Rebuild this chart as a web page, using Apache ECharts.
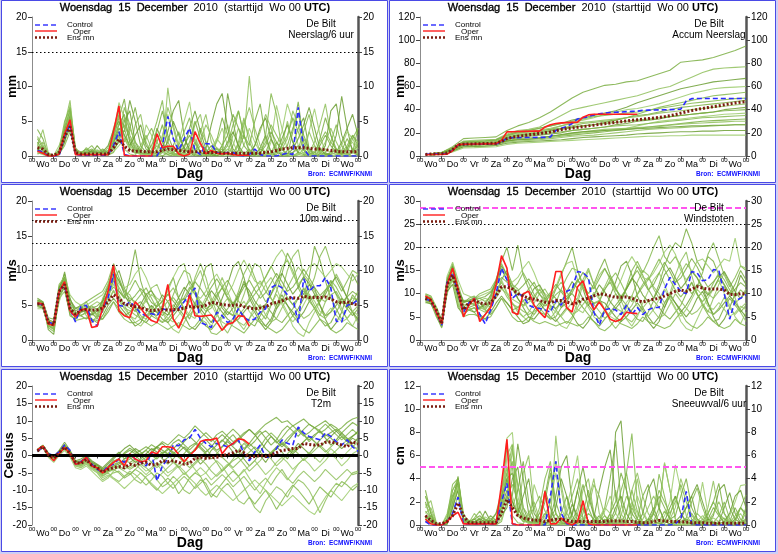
<!DOCTYPE html>
<html>
<head>
<meta charset="utf-8">
<script src="https://cdn.jsdelivr.net/npm/echarts@6/dist/echarts.min.js"></script>
<style>
html, body { margin: 0; padding: 0; background: #cfcff4; }
#chart { width: 778px; height: 554px; }
</style>
</head>
<body>
<div id="chart"></div>
<script>
// forecast steps (hours after Wo 00 UTC)
const hours = [6,12,18,24,30,36,42,48,54,60, 66,72,78,84,90,96,102,108,114,120,
  126,132,138,144,150,156,162,168,174,180, 186,192,198,204,210,216,222,228,234,240,
  246,252,258,264,270,276,282,288,294,300, 306,312,318,324,330,336,342,348,354,360]
const hours12 = [12,24,36,48,60,72,84,96,108,120, 132,144,156,168,180,192,204,216,228,240,
  252,264,276,288,300,312,324,336,348,360]
const dayNames = ['Wo','Do','Vr','Za','Zo','Ma','Di','Wo','Do','Vr','Za','Zo','Ma','Di','Wo']

// ---- Neerslag/6 uur (mm)
const precipControl = [0.8,0.6,0,0,0.1,2.8,4.5,0.2,0.1,0.1, 0.1,0.1,0.1,0.2,1.5,3.5,0.2,0,0,0,
  0,0,0,1.5,5.7,2.5,0.8,2.5,4.0,0.8, 0.2,1.8,1.7,0.5,0.3,0.5,0.5,0.1,0,0.2,
  1.0,0.2,0,0,0,0.2,0.4,0.2,7.0,1.0, 0,0,0,0,0,0,0,0,0,0]
const precipOper = [0.7,0.4,0,0,0.3,3.2,5.2,0.2,0.2,0.2, 0.2,0.2,0.2,0.2,3.5,7.2,0.1,0,0,0,
  0,0,3.2,1.2,1.4,1.4,0.3,0,0.3,3.5, 1.8,0.3,0.8,0.4,0.3,0.4,0.2,0.1,0.1,0.1]
const precipMean = [1.2,1.0,0.2,0.1,0.5,2.8,4.2,0.5,0.3,0.3, 0.3,0.3,0.3,0.3,1.2,2.4,1.4,0.8,0.7,0.7,
  0.6,0.6,0.6,0.8,1.0,0.9,0.8,0.7,0.6,0.6, 0.6,0.5,0.5,0.5,0.4,0.4,0.4,0.4,0.4,0.4,
  0.4,0.4,0.5,0.6,0.8,1.0,1.1,1.2,1.2,1.2, 1.1,1.0,1.0,0.9,0.8,0.7,0.6,0.6,0.6,0.6]
const precipMembers = [
  [3.8,2.5,0.2,0,0.5,3.5,6.8,0.8,0.4,0.6, 1.0,0.5,0.3,0.2,2.5,5.5,8.2,3.0,1.2,0.5, 0,0.3,2.0,4.5,1.0,0.2,0,1.5,3.0,0.8,
   0.2,0,0.5,2.2,5.5,3.0,0.5,0,0.3,1.0, 0,0,0.5,2.5,1.0,0,0,3.5,7.8,2.0, 0.5,0,1.0,0.2,0,0,0.8,2.5,1.0,0.3],
  [1.5,3.8,0.5,0,0.2,4.5,8.0,0.5,0.2,1.2, 0.5,0.2,0.8,0.3,4.0,6.5,2.5,1.0,4.5,6.0, 2.0,0.3,0,0.5,9.8,4.0,1.0,0.3,0,0.2,
   3.5,6.0,2.0,0.5,0,0,1.5,4.0,2.5,11.5, 3.0,0.5,0,0,0.2,1.5,5.0,2.0,0.3,0, 0.5,2.0,4.5,7.5,3.0,0.5,0,0.2,1.0,0.5],
  [2.0,0.8,0,0,0.8,2.5,5.5,0.3,0.5,0.2, 0.3,1.5,0.5,0.2,1.8,4.0,3.5,8.0,5.0,1.5, 0.5,0,0,1.0,3.5,6.5,8.0,3.0,0.5,0,
   0,0.5,1.5,0.5,0.2,9.0,5.0,1.0,0.2,0, 0,1.2,3.0,0.5,0,0,0.8,1.5,4.0,5.5, 1.0,0.2,0,0,0.5,3.0,8.6,4.0,0.5,1.5],
  [0.5,0.2,0,0.1,1.5,4.0,7.5,1.0,0.3,0.2, 0.5,0.3,0.2,0.5,3.0,7.7,5.5,2.0,0.5,0.2, 4.5,3.0,0.5,0,0,0.2,2.0,5.0,7.8,2.5,
   0.5,0,0,0,1.5,4.5,2.0,0.3,5.0,3.0, 0.5,0.2,0,2.0,7.3,4.0,1.0,0.2,0,0, 3.5,6.8,3.0,0.5,0,0,0.3,1.2,2.0,0.5],
  [1.0,0.5,0.1,0,0.3,1.5,3.5,0.5,0.3,0.8, 1.5,0.5,0.2,0.1,0.5,2.5,7.0,4.5,1.5,0.5, 0.2,2.5,5.0,8.0,2.0,0.5,0,0,0.3,1.5,
   4.0,2.0,0.5,0,0,0.5,3.0,6.5,3.0,0.5, 0,0,3.0,9.0,6.0,1.0,0,0,0.5,2.5, 1.0,0,0,0.5,2.0,4.5,1.5,0.3,0,0],
  [2.5,1.2,0,0,0.5,3.0,4.5,0.3,0.2,0.3, 0.2,0.4,1.0,0.5,2.0,3.5,2.0,4.0,7.0,3.0, 1.0,0.2,0,0,0.5,1.5,3.5,1.0,0.3,2.0,
   0.5,0,0.2,1.0,0.5,0.2,0,0.8,3.0,1.5, 5.0,7.5,2.5,0.5,0,0,0,0.5,1.5,0.8, 0.2,0,2.5,5.5,3.0,1.0,0.2,0,0.5,4.0],
  [1.2,2.0,0.3,0,0.2,2.0,6.0,0.4,0.2,0.1, 0.1,0.2,0.3,1.2,3.5,6.0,1.0,0.3,0.1,1.5, 3.0,1.0,0.2,0.5,1.5,0.3,0,0.2,1.5,4.5,
   6.0,2.0,0.3,0,0.3,1.0,0.5,0,0,0.5, 1.5,3.5,6.0,4.0,1.0,0.3,0,0,0.2,1.0, 3.5,1.5,0.3,0,0.3,1.0,0.5,0.2,0,0.3],
  [0.3,0.5,0.1,0,0.6,3.8,5.8,0.6,0.4,0.3, 0.8,0.6,0.4,0.3,1.0,2.0,5.0,6.5,2.0,0.5, 0.2,0.5,4.0,2.0,0.5,0.2,0.3,2.5,1.0,0.2,
   0,1.0,4.5,7.5,9.0,4.0,1.0,0.2,0,0, 0.3,1.0,0.5,0.2,0.5,2.5,4.5,2.0,0.5,0.2, 0,0,0.3,1.5,6.5,7.5,3.0,1.0,0.5,0.2],
  [1.8,0.8,0.1,0,0.4,2.2,4.0,0.2,0.2,0.4, 0.6,0.9,0.5,0.2,2.2,4.8,3.0,1.5,0.8,0.3, 0.2,0.1,0.5,3.0,6.0,2.5,0.5,0.2,0.5,1.0,
   0.3,0.2,0.5,2.0,4.0,1.5,0.5,0.2,1.5,4.0, 2.0,0.5,0.2,0.3,1.5,3.5,7.5,5.0,1.5,0.3, 0.5,1.5,0.5,0.2,0,0.2,1.5,3.5,2.5,1.0],
  [0.6,1.0,0.2,0,1.0,5.0,7.0,1.2,0.3,0.2, 0.3,0.3,0.2,0.2,1.2,3.0,4.5,2.5,1.0,0.4, 0.3,0.5,1.5,0.8,0.2,0,0.5,1.2,0.3,0.5,
   1.5,0.8,0.3,0.5,1.0,0.3,0.2,2.0,5.5,2.0, 0.3,0,0,0.5,2.0,1.0,0.3,0.5,1.0,3.5, 6.0,2.5,0.5,0.2,0.5,1.0,0.3,0.5,2.5,4.0],
  [0.8,1.5,0.3,0,0.6,2.5,5.0,0.6,0.5,1.0, 0.4,0.3,0.5,0.8,2.0,4.5,6.0,2.0,0.8,0.3, 0.5,1.5,3.5,6.5,3.0,1.0,0.3,0.5,2.0,5.0,
   2.5,0.5,0,0.3,1.5,3.0,6.0,4.0,1.5,0.5, 0.2,0.5,1.5,3.5,2.0,0.8,1.5,4.0,6.0,3.0, 1.0,0.5,1.5,3.0,1.5,0.5,0.3,1.0,3.0,1.5],
  [2.8,1.5,0.1,0,0.3,3.2,6.2,0.4,0.6,0.5, 0.3,0.8,0.4,0.2,1.5,3.0,5.5,4.0,2.0,1.0, 0.3,0.1,1.0,2.5,7.0,4.5,1.5,0.5,0.2,0.8,
   2.0,4.5,3.0,1.0,0.3,0.1,0.5,1.5,4.5,7.0, 4.0,1.5,0.5,0.2,0.5,1.0,2.5,6.5,4.5,1.5, 0.5,0.2,0.5,2.0,4.0,2.0,0.5,0.2,0.5,2.0],
  [1.0,0.5,0,0,0.2,2.0,4.8,0.3,0.2,0.5, 0.7,0.4,0.6,1.5,3.8,5.0,3.0,1.5,3.0,4.5, 1.5,0.5,0.2,0.8,2.0,5.0,3.0,1.0,4.0,6.5,
   3.5,1.0,0.2,0,0.5,2.0,3.5,1.5,0.3,0.2, 1.5,4.0,5.5,2.5,0.5,0.2,0.3,1.0,2.5,4.5, 7.0,4.0,1.0,0.3,0.2,0.5,2.0,4.0,6.0,3.0],
  [0.4,0.3,0.1,0,0.4,2.6,3.8,0.3,0.2,0.2, 0.3,0.4,0.3,0.2,0.6,1.5,2.5,1.5,0.5,0.3, 0.2,0.2,0.5,1.0,0.5,0.2,0.1,0.2,0.5,0.3,
   0.2,0.3,1.0,2.5,1.5,0.5,0.2,0.1,0.3,0.8, 0.5,0.2,0.1,0.3,0.8,0.5,0.2,0.1,0.3,0.5, 0.3,0.2,0.5,1.0,0.5,0.2,0.1,0.2,0.5,0.3],
  [1.5,0.9,0.2,0,0.7,4.2,6.5,0.9,0.6,0.4, 0.2,0.2,0.3,0.6,2.8,6.0,4.0,1.0,0.4,1.0, 2.5,4.0,2.0,0.5,0.2,0.5,1.5,3.5,5.5,2.0,
   0.5,0.2,0.5,1.2,0.5,1.5,4.5,6.5,3.0,0.8, 0.3,0.5,2.0,4.5,3.0,1.5,3.0,5.5,3.5,1.0, 0.3,0.5,2.0,3.5,2.0,1.0,0.5,1.5,3.0,2.0]
]
const precipLevels = [15]

// ---- Accum Neerslag (mm)
const accumControl = [1.5,1.8,1.8,1.9,2.0,5.0,9.5,10.0,10.1,10.2, 10.2,10.3,10.3,10.4,12.0,15.5,15.7,15.8,16.0,16.0,
  16.0,16.1,16.1,16.5,22.0,24.0,25.5,28.0,32.0,33.0, 34.0,35.5,36.5,37.0,37.5,37.8,38.0,38.3,38.5,38.7,
  39.5,39.6,39.7,39.8,39.9,40.0,40.2,40.5,47.5,49.5, 49.7,49.7,49.7,49.7,49.7,49.7,49.7,49.7,49.6,49.5]
const accumOper = [1.0,1.3,1.3,1.3,1.6,4.5,9.8,10.1,10.2,10.3, 10.4,10.5,10.6,10.7,13.5,20.8,21.0,21.2,21.3,21.4,
  21.5,21.5,25.0,27.0,28.0,28.6,28.8,29.0,29.2,33.5, 35.5,36.0,36.1,36.1,36.1,36.1,36.1,36.1,36.1,36.1]
const accumMean = [1.3,1.7,1.9,2.0,2.5,5.5,9.6,10.2,10.4,10.5, 10.6,10.8,10.9,11.0,12.5,15.0,16.3,17.0,17.6,18.2,
  18.8,19.4,20.0,20.8,21.8,22.8,23.6,24.2,24.8,25.4, 26.0,26.6,27.2,27.8,28.4,29.0,29.6,30.2,30.8,31.3,
  31.8,32.3,32.8,33.3,34.0,34.8,35.8,37.0,38.2,39.2, 40.2,41.0,41.8,42.6,43.4,44.2,45.0,45.8,46.4,46.9]
const accumMembers = [
  [2,3,8,15,15.5,16,16.5,22,26,29, 33,38,44,50,55,58,61,62,64,65, 68,71,74,81,82,83,85,88,91,95],
  [2,3,7,13,13.5,14,14.5,19,22,23, 25,30,35,40,42,44,46,48,50,52, 55,58,60,64,68,72,75,76,76.5,77],
  [1.5,2.5,6,12,12.5,13,14,18,21,22, 24,26,28,31,33,35,37,39,42,46, 49,52,55,58,60,62,64,65,66,67],
  [2,2.5,6,11,11.5,12,12.5,16,19,20, 21,23,26,29,31,33,36,38,40,41, 43,45,48,51,54,56,58,59,59.5,60],
  [1.5,2,5,10,10.5,11,11.5,15,18,19, 20,22,24,26,28,29,30,31,33,36, 39,42,44,46,48,50,52,53,54,55],
  [2,3,7,12,12.5,13,13.5,17,20,21, 22,23,24,25,26,27,29,31,33,35, 36,38,40,42,43,44,45,46,47,48],
  [2,2.5,6,11,11.3,11.6,12,17,20,21, 22.5,24,26,28,29,30,31,32,33,34, 35.5,37,38,39,40,41,42,43,44,45],
  [1,2,5,9,9.5,10,10.5,14,16,17, 18,19,20,22,23,24,25,27,28,30, 31,32,34,35,36,37,38,40,41,42],
  [2,3,6,10,10.5,11,11.2,13,15,15.5, 16,17,18,19,20,21,22,23,24,26, 28,30,31,32,33,34,35,36,36.5,37],
  [1.5,2.5,5.5,10,10.3,10.6,11,14,17,18, 19,20,21,22,23,24,25,26,26.5,27, 28,29,30,31,32,33,33.5,34,34.5,35],
  [1.5,2,5,9,9.5,10,10.2,13,14,14.5, 15,16,17,18,19,20,21,22,23,24, 25,26,27,28,29,30,30.5,31,31.5,32],
  [1,1.5,4,8,8.3,8.6,9,12,13,13.5, 14,15,16,17,17.5,18,19,20,21,22, 23,23.5,24,24.5,25,25.5,26,26.5,27,27],
  [1,2,4,8,8.2,8.5,9,11,12,12.5, 13,13.5,14,15,16,16.5,17,17.5,18,19, 19.5,20,20.5,21,21,21.5,21.5,22,22,22],
  [1,1.5,3.5,7,7.2,7.5,8,10,11,11.5, 12,12.5,13,13.5,14,14.5,15,15.5,16,16.5, 17,17,17.5,17.5,18,18,18,18,18,18],
  [2,3,7,12,12.5,13,13.5,18,21,22, 24,26,28,30,32,34,35,36,37,38, 39.5,41,42.5,44,45.5,46.5,47.5,48.5,49.5,50],
  [1.5,2.5,6,11,11.3,11.6,12,16,18,19, 20,21.5,23,24.5,26,27,28,29,30,31, 32,33,34,35,36,37,38,39,39.5,40],
  [1,2,5,9,9.3,9.6,10,13,15,15.5, 16,17,18,19.5,21,22,23,23.5,24,24.5, 25,25.5,26.5,27.5,28,28.5,29,29.5,30,30],
  [1.5,2.5,5.5,10,10.2,10.4,10.6,13,14,14.5, 15.5,17,18.5,20,21,21.5,22,22.5,23,23.5, 24,24.5,25,25.5,26,26,26.5,26.5,27,27]
]

// ---- 10m wind (m/s)
const windControl = [5.3,5.0,2.6,2.3,7.2,7.8,4.5,2.6,4.8,5.0, 2.8,2.0,4.5,6.0,9.5,5.0,4.8,5.5,4.8,3.8,
  3.5,3.8,3.5,4.5,4.3,4.2,4.5,5.5,6.5,7.5, 2.5,2.2,1.8,4.0,3.5,2.5,3.0,4.5,3.2,2.8,
  3.0,4.0,4.5,7.5,8.0,7.5,6.5,6.0,2.5,8.8, 7.0,7.8,7.8,9.0,7.5,2.7,2.6,5.0,5.2,5.8]
const windOper = [5.3,5.2,2.3,2.1,7.0,8.4,4.2,3.3,4.3,4.5, 1.8,2.0,4.5,7.0,10.8,4.2,3.5,3.2,5.5,4.6,
  3.5,2.8,2.5,4.5,8.0,3.0,1.7,3.5,6.5,3.5, 3.4,3.5,3.6,2.6,1.4,2.3,2.5,3.5,3.4,2.0]
const windMean = [5.2,5.1,2.5,2.2,7.0,8.0,4.5,3.7,4.3,4.4, 4.3,4.3,4.6,5.5,6.5,6.0,5.2,5.0,4.8,4.7,
  4.4,4.2,4.3,4.4,4.3,4.4,4.4,4.6,4.8,4.7, 4.8,5.0,5.4,5.3,5.1,5.0,5.0,5.1,4.8,4.6,
  4.5,4.6,4.8,5.2,5.4,5.6,6.0,6.1,6.0,6.3, 6.1,6.1,6.1,6.2,5.9,5.5,5.3,5.5,5.2,5.0]
const windMembers = [
  [5.5,5.0,2.0,1.5,7.5,9.5,5.0,3.0,4.5,5.5, 4.0,3.0,5.5,8.0,10.5,7.0,6.0,9.0,13.0,8.5, 6.0,4.0,3.5,5.0,7.5,9.0,6.0,4.5,3.0,5.0,
   8.0,10.5,11.0,7.0,5.0,4.0,3.5,6.0,8.5,6.5, 5.0,4.0,3.0,5.0,7.0,9.5,12.5,11.0,8.0,6.5, 9.0,13.5,11.5,8.5,6.0,4.5,3.0,4.5,6.5,5.5],
  [5.0,4.8,3.0,2.5,6.0,7.0,4.0,4.5,5.0,3.5, 2.5,3.5,6.0,7.5,9.0,6.5,5.0,3.5,3.0,4.5, 6.0,7.5,8.0,6.0,4.0,3.0,2.0,3.5,6.0,9.0,
   11.0,9.0,6.0,4.0,2.0,1.0,2.5,4.5,6.5,9.0, 11.0,10.5,8.0,6.0,5.0,7.0,10.0,12.0,13.0,9.0, 6.5,5.0,3.5,5.5,7.5,9.5,8.0,6.0,4.0,2.5],
  [6.0,5.5,1.5,0.8,6.5,9.8,6.0,4.0,3.5,3.0, 3.8,4.5,4.0,6.5,8.5,10.0,7.5,5.5,4.5,3.0, 2.5,3.5,5.0,6.5,5.5,4.0,5.0,7.0,8.5,7.0,
   4.5,3.5,2.5,4.0,6.0,8.0,10.5,11.3,9.0,6.0, 4.5,3.0,2.0,3.0,5.0,6.5,5.0,3.5,4.5,6.0, 8.0,7.5,5.0,3.0,1.5,2.5,4.0,6.5,9.5,8.0],
  [4.5,4.5,2.5,2.0,5.5,8.0,4.5,3.5,4.0,4.5, 5.0,5.5,5.0,5.5,7.0,6.0,4.5,3.5,2.5,2.0, 3.0,4.5,5.5,4.0,2.5,1.5,1.0,2.5,4.0,5.5,
   4.0,3.0,2.0,3.5,5.0,6.0,4.0,2.5,1.5,3.0, 5.0,6.5,8.0,9.0,7.5,5.5,4.0,2.0,1.0,0.5, 2.5,4.0,5.5,7.0,8.5,6.5,4.5,3.0,2.0,3.5],
  [5.8,5.5,3.2,3.0,8.0,9.0,5.5,4.5,5.0,5.5, 6.0,6.5,7.0,8.5,11.0,9.0,7.0,6.0,5.5,6.5, 7.5,6.0,4.5,3.5,4.5,6.5,8.5,10.0,9.5,7.0,
   5.5,4.5,5.0,6.5,7.5,6.0,5.0,7.0,9.5,11.0, 9.0,7.0,5.5,6.5,8.0,10.5,11.5,10.0,7.5,6.0, 7.0,9.0,12.0,13.5,11.0,8.5,7.0,8.5,10.0,9.5],
  [5.2,5.0,2.8,2.2,7.0,8.5,4.0,3.5,3.5,4.0, 4.5,3.5,3.0,4.0,5.5,4.5,3.5,4.0,5.0,5.5, 4.5,3.5,3.0,2.5,3.0,4.0,5.5,6.0,5.0,4.0,
   3.0,2.0,1.5,2.5,3.5,4.5,5.5,4.5,3.5,2.5, 2.0,3.5,5.0,4.0,3.0,2.5,3.5,4.5,6.0,7.5, 6.0,4.5,3.0,2.0,2.5,4.0,5.5,4.5,3.5,4.5],
  [5.6,5.3,2.0,1.8,7.2,8.8,4.8,3.8,4.2,4.8, 4.0,3.8,5.0,7.0,9.5,8.5,7.0,6.5,5.0,3.5, 3.0,4.0,4.8,5.5,6.5,7.5,6.0,4.5,5.5,8.5,
   10.0,7.5,5.5,7.0,9.0,7.0,5.0,3.5,4.5,6.0, 7.5,8.5,7.0,6.0,4.5,5.5,7.5,9.0,10.5,9.5, 8.5,7.0,6.0,5.5,6.5,7.0,5.5,4.5,5.5,7.0],
  [4.8,4.6,2.4,1.9,6.5,7.5,3.5,3.0,4.0,4.2, 3.0,2.5,3.5,5.0,6.0,5.0,4.0,3.0,2.0,2.5, 4.0,5.0,4.0,3.0,2.5,3.5,4.5,3.5,2.0,1.5,
   2.5,4.0,5.5,5.0,4.0,3.0,2.5,3.0,4.0,5.0, 4.0,2.5,1.5,2.5,4.5,6.0,5.0,4.0,3.0,4.0, 5.5,6.5,5.0,3.5,4.0,5.0,6.0,5.0,4.0,3.0],
  [5.4,5.2,2.6,2.4,7.8,9.2,6.5,5.5,5.0,5.0, 5.5,6.0,6.5,8.0,10.0,8.0,7.5,8.0,9.5,10.5, 9.0,7.0,6.0,5.5,7.0,9.0,10.5,11.0,8.0,6.5,
   6.0,7.0,8.5,9.5,8.0,6.5,8.0,10.0,11.5,10.0, 8.5,8.0,9.0,10.5,12.0,13.0,11.5,9.5,8.0,9.0, 10.5,11.0,10.0,9.0,10.0,11.0,10.5,9.5,8.5,9.5],
  [5.0,4.7,1.8,1.2,6.2,7.8,3.8,2.8,3.0,3.2, 3.0,2.8,3.0,4.5,5.5,4.0,3.0,2.5,2.5,3.0, 2.5,2.0,2.5,2.0,1.5,2.0,2.5,2.0,1.5,2.0,
   3.0,2.5,1.0,0.8,1.5,2.5,2.0,1.5,1.0,2.0, 3.0,2.5,2.0,1.5,1.0,1.5,2.5,3.5,2.5,1.5, 1.0,2.0,3.0,2.5,1.5,1.0,1.5,2.5,2.0,1.5],
  [5.3,5.1,2.9,2.6,7.4,8.6,5.2,4.2,4.6,4.9, 4.6,4.9,5.6,6.6,7.6,7.0,6.2,5.6,6.4,7.4, 6.6,5.4,4.8,5.6,6.6,5.6,4.6,5.6,7.2,8.4,
   7.4,6.2,7.6,8.8,7.6,6.2,5.2,6.2,7.6,8.6, 7.2,6.0,6.8,8.2,9.6,8.4,7.0,7.6,8.8,10.2, 9.0,7.6,6.4,7.2,8.0,6.6,5.4,6.2,7.0,6.4],
  [4.9,4.8,2.2,1.6,6.8,8.2,4.3,3.2,3.6,3.9, 3.7,3.3,4.1,5.6,7.2,5.6,4.6,4.2,3.6,3.1, 3.6,4.1,3.2,2.6,3.6,5.1,4.1,3.1,3.6,4.6,
   5.6,4.6,3.6,2.6,3.1,4.1,3.6,2.6,2.1,3.1, 4.1,5.1,3.6,2.6,3.1,4.6,6.1,5.1,4.1,3.1, 3.6,4.6,3.6,3.1,4.1,5.6,4.1,3.1,4.1,4.9],
  [5.7,5.4,2.7,2.1,7.6,9.0,5.8,4.6,4.6,4.1, 3.6,4.2,5.6,7.6,9.8,8.6,6.6,5.1,4.1,5.1, 6.6,7.1,5.6,4.1,3.6,4.6,6.1,7.6,6.6,5.1,
   4.1,5.6,7.1,6.1,4.6,3.6,4.6,6.6,8.1,7.1, 5.6,4.6,5.1,6.6,8.6,9.6,8.1,6.6,7.6,9.1, 8.1,6.6,5.6,6.6,8.1,9.1,7.6,6.1,5.1,6.1],
  [5.1,4.9,2.5,2.0,6.9,7.9,4.1,3.4,4.4,4.6, 4.1,3.6,4.6,6.1,8.1,6.1,5.1,4.6,4.1,4.6, 5.6,6.6,5.6,4.1,3.1,2.6,3.6,4.6,3.6,3.1,
   4.6,6.1,5.1,3.6,2.6,2.1,3.1,4.6,5.6,4.1, 3.1,2.6,3.6,5.1,6.6,5.1,3.6,2.6,3.6,5.1, 6.6,5.6,4.1,3.6,4.6,3.6,2.6,3.1,4.1,3.6],
  [5.5,5.2,2.2,1.6,7.1,8.9,4.9,3.6,4.1,4.6, 4.9,4.4,5.1,6.6,8.9,7.6,6.1,7.1,8.6,7.1, 5.6,4.6,3.9,4.6,5.6,6.1,5.1,6.1,7.6,6.6,
   5.1,4.1,4.6,6.1,7.6,8.6,7.1,5.6,4.6,5.6, 6.6,7.6,9.1,10.6,9.1,7.6,6.1,5.1,6.1,7.1, 5.6,4.6,5.6,7.1,8.6,7.6,6.1,5.1,6.1,5.6]
]
const windLevels = [10.8, 13.9, 17.2]

// ---- Windstoten (m/s)
const gustControl = [8.8,8.5,6.0,3.2,12.5,14.5,10.0,6.0,8.0,9.0, 5.5,3.5,6.5,10.0,15.5,13.0,9.0,10.0,9.5,7.5,
  7.0,6.8,6.5,6.0,8.5,7.5,10.5,11.0,14.8,14.5, 13.5,6.0,3.2,6.5,6.8,6.5,5.5,7.5,5.5,7.0,
  5.5,6.5,7.0,7.0,11.0,13.5,12.0,10.5,10.0,14.8, 14.5,12.8,13.0,15.2,15.0,10.0,4.5,8.5,9.0,9.8]
const gustOper = [9.5,8.8,6.0,3.5,12.0,15.5,11.0,5.0,7.5,9.0, 4.0,5.5,7.0,12.0,18.2,15.5,6.0,5.5,10.0,10.5,
  7.5,6.0,4.8,9.0,14.8,14.8,7.0,6.0,11.5,12.8, 9.0,6.5,8.2,6.5,4.5,4.0,4.5,6.0,5.8,5.7]
const gustMean = [9.0,8.5,6.5,3.5,12.0,14.0,10.5,6.5,8.0,8.5, 8.0,7.8,8.0,9.5,11.5,11.5,11.0,10.0,9.5,9.0,
  8.8,8.5,8.2,8.0,8.5,8.5,8.2,7.8,8.0,8.8, 9.0,9.5,10.0,9.8,9.5,9.2,9.2,9.3,9.0,8.5,
  8.2,8.5,8.8,9.0,9.5,10.0,10.5,10.8,10.5,11.0, 11.5,11.2,11.0,11.0,11.0,10.8,9.8,9.8,10.0,10.0]
const gustMembers = [
  [10.0,9.5,7.0,4.0,13.0,16.5,12.0,8.0,9.0,9.5, 8.0,7.0,9.0,13.0,17.0,20.0,15.0,20.5,14.0,11.0, 9.0,11.0,9.0,8.0,11.0,14.0,17.0,20.0,15.0,12.0,
   10.0,12.0,15.0,17.5,14.0,11.0,9.0,11.0,13.0,16.0, 14.0,11.0,9.0,12.0,16.0,19.0,21.0,20.0,24.0,21.0, 17.0,15.0,18.0,17.0,14.0,12.0,10.0,12.0,15.0,13.0],
  [8.5,8.0,5.0,3.0,11.0,13.5,9.0,6.5,7.0,6.0, 4.5,5.5,7.5,10.0,12.5,10.0,8.0,6.0,5.0,6.0, 8.0,10.0,11.0,9.0,6.5,5.0,3.5,5.0,8.0,12.0,
   15.0,12.0,9.0,6.5,4.0,2.5,4.0,7.0,9.5,12.5, 15.0,14.0,11.0,9.0,7.0,10.0,14.0,17.0,19.0,14.0, 10.0,8.0,6.0,9.0,12.0,14.5,12.0,9.0,6.0,4.0],
  [9.5,9.0,5.5,2.8,11.5,16.0,11.0,7.0,6.5,6.0, 7.0,8.0,7.0,10.0,13.0,15.0,12.0,9.0,7.0,5.0, 4.5,6.0,8.0,10.0,9.0,7.0,8.0,11.0,13.0,11.0,
   7.5,6.0,4.5,6.5,9.5,12.5,16.0,17.0,14.0,9.5, 7.0,5.0,3.5,5.0,8.0,10.0,8.0,6.0,7.5,9.5, 12.0,11.5,8.0,5.0,3.0,4.5,7.0,10.0,14.0,12.0],
  [8.0,8.0,5.5,3.8,10.0,13.0,8.5,6.5,7.5,8.0, 8.5,9.0,8.5,9.0,11.0,10.0,8.0,6.5,5.0,4.0, 5.5,7.5,9.0,7.0,4.5,3.0,2.5,4.5,7.0,9.0,
   7.0,5.0,4.0,6.0,8.0,10.0,7.0,4.5,3.0,5.0, 8.0,10.5,13.0,14.5,12.0,9.0,7.0,4.0,2.5,2.0, 4.5,7.0,9.0,11.0,13.0,10.0,7.5,5.0,3.5,6.0],
  [9.8,9.2,6.5,4.2,13.5,15.0,10.5,8.0,8.5,9.0, 10.0,10.5,11.0,13.0,16.5,14.0,11.0,10.0,9.5,11.0, 12.5,10.0,8.0,6.5,8.0,11.0,13.5,15.5,15.0,11.5,
   9.0,8.0,8.5,11.0,12.5,10.0,8.5,11.5,15.0,17.0, 14.5,17.0,20.0,22.5,18.0,16.5,18.0,16.0,12.0,10.0, 11.5,14.5,18.5,21.0,17.5,14.0,11.5,13.5,16.0,15.0],
  [9.0,8.6,6.0,3.6,12.0,14.0,9.0,7.0,7.0,7.5, 8.0,6.5,5.5,7.0,9.0,8.0,6.5,7.0,8.5,9.0, 7.5,6.0,5.5,4.5,5.0,7.0,9.0,10.0,8.5,7.0,
   5.5,4.0,3.0,4.5,6.0,7.5,9.0,7.5,6.0,4.5, 4.0,6.0,8.5,7.0,5.5,4.5,6.0,7.5,10.0,12.5, 10.0,7.5,5.5,4.0,4.5,7.0,9.0,7.5,6.0,7.5],
  [9.2,9.0,6.8,3.3,12.5,14.5,10.0,7.5,8.0,9.0, 7.0,6.5,8.5,11.5,15.0,14.0,12.0,11.0,8.5,6.5, 5.5,7.0,8.5,9.5,11.0,12.5,10.5,8.0,9.0,13.0,
   15.5,12.0,9.5,11.5,14.0,11.5,8.5,6.0,7.5,10.0, 12.0,13.5,11.5,10.0,8.0,9.5,12.5,14.5,16.5,15.0, 13.5,11.5,10.0,9.0,10.5,11.5,9.5,8.0,9.0,11.0],
  [8.2,7.8,5.8,3.2,10.5,12.0,7.0,5.5,6.5,7.0, 5.5,4.5,6.0,8.0,9.5,8.0,6.5,5.0,3.5,4.0, 6.5,8.0,6.5,5.0,4.0,5.5,7.0,5.5,3.5,2.5,
   4.0,6.5,8.5,8.0,6.5,5.0,4.0,5.0,6.5,8.0, 6.5,4.0,2.5,4.0,7.0,9.5,8.0,6.5,5.0,6.5, 9.0,10.5,8.0,5.5,6.5,8.0,9.5,8.0,6.5,5.0],
  [9.6,9.4,7.2,4.5,13.8,16.8,13.0,10.0,9.5,9.0, 9.5,10.0,10.5,12.5,15.5,13.0,12.5,13.5,15.5,17.0, 14.5,11.5,10.0,9.0,11.5,14.5,16.5,17.0,13.0,11.0,
   10.0,11.5,14.0,15.5,13.0,10.5,13.0,16.0,18.0,16.0, 13.5,13.0,14.5,16.5,19.0,20.5,18.5,15.0,13.0,14.5, 17.0,17.5,16.0,14.5,16.0,17.5,17.0,22.0,16.0,15.5],
  [8.6,8.3,5.2,2.6,10.8,13.5,7.5,5.0,5.5,5.5, 5.0,4.5,5.0,7.0,9.0,7.0,5.0,4.0,4.0,5.0, 4.0,3.5,4.0,3.5,3.0,3.5,4.0,3.5,3.0,3.5,
   5.0,4.0,2.5,2.0,3.0,4.5,3.5,3.0,2.5,3.5, 5.0,4.0,3.5,3.0,2.5,3.0,4.5,6.0,4.0,3.0, 2.5,3.5,5.0,4.0,3.0,2.5,3.0,4.5,3.5,3.0],
  [9.1,8.7,6.3,3.8,12.8,15.2,11.0,8.5,8.6,9.1, 9.0,9.4,10.3,11.8,13.5,12.5,11.3,10.6,11.8,13.2, 11.6,9.8,8.8,10.3,12.0,10.4,8.8,10.2,12.6,14.6,
   13.0,11.0,13.2,15.4,13.4,11.0,9.4,11.0,13.4,15.0, 12.8,10.8,12.0,14.4,16.8,14.8,12.4,13.4,15.4,17.6, 15.8,13.4,11.4,12.6,14.0,11.8,9.8,11.0,12.4,11.4],
  [8.4,8.2,5.6,3.0,11.2,13.0,7.8,6.0,6.5,6.9, 6.6,6.0,7.2,9.4,11.5,9.3,7.7,7.1,6.2,5.5, 6.2,6.9,5.6,4.7,6.2,8.4,6.9,5.5,6.2,7.7,
   9.2,7.7,6.2,4.7,5.5,6.9,6.2,4.7,3.9,5.5, 6.9,8.4,6.2,4.7,5.5,7.7,10.0,8.4,6.9,5.5, 6.2,7.7,6.2,5.5,6.9,9.2,6.9,5.5,6.9,8.0],
  [9.3,8.9,6.1,3.4,12.9,15.8,10.8,8.3,8.3,7.6, 6.8,7.7,9.7,12.8,16.0,14.1,11.1,8.9,7.4,8.9, 11.1,11.9,9.7,7.4,6.8,8.3,10.4,12.6,11.1,8.9,
   7.4,9.7,11.9,10.4,8.3,6.8,8.3,11.1,13.4,11.9, 9.7,8.3,8.9,11.1,14.1,15.6,13.4,11.1,12.6,14.8, 13.4,11.1,9.7,11.1,13.4,14.8,12.6,10.4,8.9,10.4],
  [8.7,8.4,5.9,3.3,11.6,13.7,8.1,6.4,7.6,7.9, 7.3,6.6,8.1,10.3,13.0,10.3,8.8,8.1,7.3,8.1, 9.6,11.0,9.6,7.3,5.9,5.1,6.6,8.1,6.6,5.9,
   8.1,10.3,8.8,6.6,5.1,4.4,5.9,8.1,9.6,7.3, 5.9,5.1,6.6,8.8,11.0,8.8,6.6,5.1,6.6,8.8, 11.0,9.6,7.3,6.6,8.1,6.6,5.1,5.9,7.3,6.6],
  [9.4,9.1,6.6,3.7,12.3,15.5,10.3,7.2,7.8,8.6, 9.0,8.3,9.3,11.5,15.2,13.0,11.0,12.3,14.5,12.3, 9.8,8.3,7.3,8.3,9.8,10.8,9.3,10.8,13.0,11.5,
   9.3,7.8,8.3,10.8,13.0,14.5,12.3,9.8,8.3,9.8, 11.5,13.0,15.2,17.5,15.2,13.0,10.8,9.3,10.8,12.3, 9.8,8.3,9.8,12.3,14.5,13.0,10.8,9.3,10.8,9.8]
]
const gustLevels = [20, 25]
const gustRecord = [28.6]

// ---- T2m (Celsius)
const tempControl = [1.2,2.5,0.5,0.0,1.0,3.0,1.5,-2.5,-1.8,-0.5, -2.5,-4.0,-4.8,-3.0,-2.5,-1.0,-2.0,0.5,-1.0,-2.0,
  -3.0,1.0,-7.3,-3.0,-1.0,3.0,2.8,4.5,5.0,7.5, 5.0,3.5,2.5,3.5,3.0,2.5,3.5,4.5,0.5,-1.5,
  1.0,3.0,-0.5,-0.5,2.0,4.5,3.5,3.0,8.2,6.5, 5.5,5.0,4.5,6.5,5.5,4.0,3.0,4.5,2.5,1.2]
const tempOper = [1.6,2.7,0.2,-1.5,0.5,2.3,0.5,-2.5,-2.0,-0.5, -3.0,-3.5,-5.0,-3.5,-2.0,-1.0,-3.0,0.5,-1.0,-1.8,
  -1.5,1.0,0.5,2.5,2.5,2.2,0.3,-1.8,0.0,1.5, 4.0,4.5,4.5,5.0,0.5,2.5,3.5,4.8,4.5,3.3]
const tempMean = [1.3,2.6,0.2,-0.8,0.8,2.4,0.6,-2.0,-2.3,-1.2, -2.8,-3.5,-4.8,-4.0,-3.5,-3.2,-3.5,-2.5,-2.8,-2.2,
  -2.0,-2.8,-2.5,-1.5,-1.8,-1.5,-2.0,-2.5,-2.2,-0.8, -0.5,-0.8,-0.6,-0.5,0.0,0.3,0.8,1.5,0.8,-0.5,
  -0.3,0.0,-0.3,0.2,0.8,1.5,1.6,2.0,2.0,3.5, 3.2,3.0,3.0,3.8,4.0,3.5,3.0,2.5,4.0,3.3]
const tempMembers = [
  [1.5,2.8,0.5,-1.0,1.2,3.2,1.0,-2.5,-2.0,-0.5, -2.0,-3.0,-4.0,-3.0,-1.5,-1.0,0.5,1.5,0.5,1.5, 2.5,1.5,2.5,4.0,3.0,4.5,6.0,5.0,6.5,8.5,
   7.0,5.5,4.0,6.0,7.0,5.5,4.0,5.0,6.5,7.5, 6.0,7.5,9.0,10.0,11.0,9.5,10.0,8.5,9.5,10.5, 9.0,8.0,9.0,10.0,8.5,7.0,8.0,9.5,10.5,11.0],
  [1.2,2.4,0.0,-1.5,0.5,2.0,0.0,-3.0,-3.5,-2.5, -4.0,-5.0,-7.0,-6.0,-5.0,-4.5,-6.0,-5.0,-7.0,-8.0, -6.0,-5.0,-7.0,-9.0,-8.0,-6.0,-7.5,-10.0,-11.0,-9.0,
   -7.0,-8.0,-11.0,-12.0,-9.5,-8.0,-10.0,-13.0,-14.0,-12.0, -15.0,-16.5,-13.0,-11.0,-9.0,-10.0,-12.0,-9.0,-7.0,-8.0, -10.0,-13.0,-16.5,-13.0,-10.0,-8.0,-9.0,-7.0,-5.0,-4.5],
  [1.8,3.0,0.8,-0.5,1.5,3.8,1.5,-1.5,-1.0,0.0, -1.5,-2.5,-3.5,-2.0,-0.5,1.0,-1.0,0.5,2.0,1.0, -0.5,1.0,2.5,1.5,0.5,2.0,3.5,2.0,0.5,1.5,
   3.0,4.5,3.0,1.5,2.5,4.0,2.5,1.0,-1.0,-3.0, -1.5,1.0,3.5,5.5,4.0,2.5,4.0,6.0,7.5,6.0, 4.5,6.0,7.0,5.0,3.0,4.5,6.5,5.0,3.5,5.0],
  [1.0,2.2,-0.5,-2.0,0.0,1.5,-0.5,-3.5,-4.0,-3.0, -4.5,-6.0,-7.5,-6.5,-4.5,-3.0,-4.0,-3.0,-1.5,-3.0, -4.5,-3.5,-2.0,-3.0,-5.0,-4.0,-2.5,-1.0,-2.0,-4.0,
   -6.0,-5.0,-3.0,-1.5,-3.0,-5.5,-7.5,-6.0,-4.0,-6.5, -9.0,-11.0,-8.0,-5.5,-3.5,-5.0,-7.0,-5.0,-2.5,-1.0, -2.5,-4.5,-3.0,-1.5,0.5,-1.0,-3.0,-1.5,0.5,1.5],
  [1.4,2.6,0.3,-0.8,0.8,2.6,0.8,-2.0,-2.5,-1.0, -2.5,-3.5,-5.0,-4.5,-4.0,-5.0,-6.5,-5.5,-4.0,-5.0, -6.5,-8.5,-10.0,-8.0,-6.5,-8.0,-11.0,-9.0,-6.5,-5.0,
   -6.0,-9.0,-12.0,-10.0,-8.0,-6.0,-4.5,-6.0,-9.0,-12.0, -14.0,-12.0,-10.0,-12.5,-15.5,-13.0,-10.5,-8.5,-10.0,-12.0, -14.0,-11.5,-9.0,-10.5,-12.0,-9.5,-7.5,-8.5,-10.0,-8.5],
  [1.6,2.9,0.6,-0.3,1.3,2.8,1.2,-1.8,-1.5,-0.8, -2.2,-2.8,-4.2,-3.5,-2.5,-2.0,-1.5,-2.0,-1.0,0.5, 1.5,0.0,-1.0,0.5,2.0,1.0,-0.5,0.5,2.5,3.5,
   2.0,0.5,-1.0,0.5,2.5,4.5,6.0,4.0,2.0,3.5, 5.5,7.0,5.0,3.0,4.5,7.0,8.5,7.0,5.5,7.5, 9.0,8.0,6.5,7.5,9.0,8.0,6.5,8.0,9.5,8.5],
  [1.1,2.3,-0.2,-1.2,0.6,2.2,0.3,-2.8,-3.0,-2.0, -3.5,-4.5,-6.0,-5.0,-6.5,-7.5,-6.0,-4.5,-5.5,-7.0, -8.5,-7.0,-5.0,-6.0,-8.0,-9.5,-7.5,-6.0,-7.5,-9.5,
   -8.0,-6.5,-8.5,-7.0,-5.5,-7.0,-9.0,-7.5,-6.0,-8.0, -10.0,-8.0,-6.5,-8.5,-6.0,-4.0,-6.5,-8.0,-6.0,-4.5, -6.0,-7.5,-6.0,-4.0,-5.5,-7.0,-5.5,-4.0,-5.5,-5.0],
  [1.3,2.5,0.1,-0.9,0.9,2.5,0.6,-2.2,-2.2,-1.2, -2.8,-3.8,-5.2,-4.0,-3.0,-2.5,-1.0,-0.5,-2.0,-1.0, 0.5,2.0,1.0,-1.0,-2.5,-1.0,1.0,2.5,1.0,-0.5,
   -2.5,-1.0,1.5,3.0,4.5,3.0,1.0,-0.5,1.5,3.5, 2.0,0.0,-2.0,0.5,2.5,1.0,-1.0,1.5,3.5,2.0, 0.5,2.5,4.5,6.0,5.0,3.5,2.0,3.5,5.0,4.0],
  [1.7,2.7,0.4,-0.6,1.0,3.0,0.9,-2.0,-1.8,-0.6, -2.4,-3.2,-4.5,-3.8,-2.0,-1.5,-2.5,-3.5,-2.5,-4.0, -5.5,-4.0,-2.5,-4.5,-6.0,-4.5,-3.0,-4.5,-6.5,-5.0,
   -3.5,-5.0,-7.0,-5.5,-4.0,-2.5,-4.0,-6.0,-4.5,-3.0, -1.5,-3.5,-5.5,-4.0,-2.0,-0.5,-2.0,-4.0,-2.5,-1.0, 1.0,-0.5,-2.0,0.0,2.0,0.5,-1.0,1.0,2.5,2.0],
  [1.5,2.6,0.2,-1.0,0.7,2.4,0.7,-2.4,-2.7,-1.5, -3.0,-4.0,-5.5,-4.5,-3.5,-3.0,-2.0,-1.0,0.0,-1.5, -3.0,-2.0,-0.5,1.0,0.5,-1.5,-3.5,-2.0,0.0,2.0,
   3.5,2.0,0.0,-2.0,-4.5,-3.0,-1.0,1.5,3.5,2.0, 0.5,2.5,5.0,6.5,5.0,3.0,5.0,6.5,8.0,6.0, 4.0,5.5,7.5,9.0,7.5,6.0,4.5,6.0,7.5,6.0],
  [1.4,2.7,0.4,-0.7,0.9,2.7,0.9,-1.9,-2.1,-0.9, -2.6,-3.4,-4.6,-3.2,-1.9,-0.9,0.8,2.1,1.1,0.1, 1.6,3.1,2.1,0.6,1.6,3.6,4.6,3.1,1.6,3.1,
   5.1,6.6,5.1,3.1,4.1,6.1,7.6,6.1,4.1,2.6, 4.1,6.1,7.1,5.6,3.6,5.1,7.1,8.6,7.1,5.6, 6.6,8.1,7.1,5.6,6.6,7.6,6.1,4.6,5.6,6.6],
  [1.3,2.5,0.0,-1.1,0.7,2.3,0.4,-2.6,-2.9,-1.8, -3.3,-4.3,-5.8,-4.8,-4.0,-3.5,-4.5,-5.5,-4.0,-2.5, -3.5,-5.0,-6.5,-5.0,-3.5,-2.0,-3.5,-5.5,-4.0,-2.5,
   -1.0,-2.5,-4.5,-6.0,-4.5,-3.0,-1.5,-0.5,-2.5,-4.5, -3.0,-1.5,0.5,-1.0,-3.0,-1.5,0.5,2.0,0.5,-1.5, 0.0,1.5,3.0,1.5,0.0,1.5,3.0,4.5,3.0,1.5],
  [1.6,2.8,0.5,-0.4,1.1,2.9,1.1,-1.7,-1.6,-0.3, -1.9,-2.7,-3.9,-2.4,-1.0,0.5,2.0,3.0,1.5,0.0, -1.5,0.5,2.5,3.5,2.0,0.5,2.0,4.0,5.5,4.0,
   2.5,1.0,2.5,4.5,6.0,4.5,3.0,4.5,6.0,7.5, 6.0,4.0,2.0,0.5,2.0,3.5,2.0,0.5,2.0,4.0, 5.5,4.0,2.5,4.0,5.5,7.0,5.5,4.0,5.5,7.0],
  [1.2,2.4,0.1,-1.3,0.4,2.1,0.2,-2.9,-3.2,-2.2, -3.7,-4.8,-6.4,-5.6,-6.8,-8.0,-9.5,-8.0,-6.5,-5.0, -6.5,-8.0,-9.5,-11.0,-9.5,-8.0,-6.5,-5.0,-6.5,-8.0,
   -10.0,-11.5,-10.0,-8.5,-10.0,-11.5,-13.0,-11.5,-10.0,-8.5, -7.0,-8.5,-10.0,-11.5,-13.0,-14.5,-13.0,-11.5,-13.0,-14.5, -16.0,-17.0,-14.5,-12.0,-10.0,-11.5,-13.0,-11.0,-9.0,-8.0],
  [1.5,2.7,0.3,-0.9,0.8,2.5,0.7,-2.3,-2.4,-1.3, -2.9,-3.7,-5.1,-4.2,-3.0,-2.0,-3.0,-4.0,-3.0,-1.5, -0.5,-2.0,-3.5,-2.0,-0.5,1.0,-0.5,-2.0,-3.5,-2.0,
   -0.5,1.0,2.5,1.0,-0.5,-2.0,-3.5,-2.0,-0.5,1.0, 2.5,1.0,-0.5,1.0,2.5,4.0,2.5,1.0,2.5,4.0, 5.5,4.0,2.5,1.0,2.5,4.0,5.5,4.0,2.5,4.0]
]
const tempZero = [0]

// ---- Sneeuwval/6 uur (cm)
const snowControl = [0.3,0,0,0,0.3,1.0,2.4,0.1,0.1,0.1, 0.1,0.1,0.1,0.1,2.0,3.6,0.1,0,0,0,
  0,0,0,2.5,5.5,1.0,0.1,0,0,0, 0,0,0,0,0,0,0,0,0,0,
  0,0,0,0,0,0,0.1,0.5,2.9,0.1, 0,0,0,0,0,0,0,0,0,0]
const snowOper = [0.5,0.1,0,0,0.3,0.8,1.1,0.1,0.1,0.1, 0.1,0.1,0.1,0.1,3.5,7.4,0.1,0,0,0,
  0,0,2.9,0.1,0.1,0.6,0.2,0,0.3,2.1, 0.1,0,0,0,0,0,0,0,0,0]
const snowMean = [0.8,0.4,0.1,0.1,0.3,0.8,1.9,0.8,0.2,0.2, 0.2,0.2,0.2,0.2,1.0,2.2,1.5,0.8,0.6,0.5,
  0.4,0.4,0.3,0.4,0.5,0.5,0.4,0.3,0.3,0.3, 0.3,0.3,0.3,0.3,0.35,0.35,0.35,0.3,0.3,0.25,
  0.2,0.2,0.3,0.4,0.35,0.3,0.3,0.3,0.25,0.2, 0.2,0.2,0.15,0.15,0.15,0.15,0.15,0.15,0.15,0.15]
const snowMembers = [
  [3.0,1.0,0,0,0.3,2.0,4.2,0.5,0.3,0.5, 0.8,0.4,0.2,0.3,2.0,6.8,5.0,1.5,0.5,0.2, 0.1,0.5,2.0,4.5,1.0,0.2,0,1.0,3.0,0.5,
   0.1,0,0.2,1.5,4.0,7.3,2.0,0.3,0,0.2, 0,0,0.3,1.5,5.3,3.0,0.5,0,0,0.2, 0,0,0.5,0.2,0,0,0.3,1.5,0.5,0.2],
  [1.5,2.1,0.2,0,0.1,1.5,3.2,0.3,0.2,1.0, 0.4,0.1,0.6,0.2,3.0,4.5,2.0,0.8,4.5,6.0, 1.5,0.2,0,0.3,7.7,3.0,0.5,0.1,0,0.1,
   2.0,4.0,1.0,0.2,0,0,0.8,2.5,1.5,4.0, 1.0,0.2,0,0,0.1,0.8,2.5,1.0,0.2,0, 0.1,0.5,1.5,3.8,1.0,0.2,0,0,0.3,0.2],
  [2.0,0.5,0,0,0.5,2.2,3.5,0.2,0.4,0.1, 0.2,1.2,0.3,0.1,1.5,3.0,2.5,7.0,4.0,1.0, 0.3,0,0,0.6,2.5,5.0,6.0,2.0,0.3,0,
   0,0.3,0.8,0.2,0.1,8.0,9.0,3.0,0.5,0.1, 0,0.5,1.5,0.2,0,0,0.3,0.8,1.5,2.5, 0.5,0.1,0,0,0.2,1.5,2.8,1.0,0.2,0.5],
  [0.5,0.1,0,0,1.0,3.0,4.0,0.5,0.2,0.1, 0.3,0.2,0.1,0.3,2.5,7.5,8.0,2.5,0.5,0.1, 3.5,2.0,0.3,0,0,0.1,1.5,3.5,6.0,1.5,
   0.3,0,0,0,1.0,3.0,1.0,0.2,2.0,1.0, 0.2,0.1,0,1.0,5.4,3.0,0.5,0.1,0,0, 1.0,3.7,1.0,0.2,0,0,0.1,0.5,1.0,0.2],
  [0.8,0.3,0,0,0.2,1.0,2.5,0.4,0.2,0.6, 1.2,0.4,0.1,0,0.3,2.0,5.5,3.5,1.0,0.3, 0.1,1.5,4.0,5.5,1.0,0.3,0,0,0.2,1.0,
   3.0,1.0,0.3,0,0,0.3,1.5,4.5,7.9,2.0, 0,0,1.0,4.4,2.5,0.5,0,0,0.3,1.0, 0.3,0,0,0.2,0.8,2.0,0.5,0.1,0,0],
  [2.5,1.0,0,0,0.4,2.5,3.0,0.2,0.1,0.2, 0.1,0.3,0.8,0.4,1.5,2.5,1.5,3.0,5.5,2.0, 0.5,0.1,0,0,0.3,1.0,2.5,0.5,0.1,1.5,
   0.3,0,0.1,0.5,0.2,0.1,0,0.3,1.5,0.5, 2.5,3.5,1.0,0.2,0,0,0,0.2,0.5,0.3, 0.1,0,1.0,2.0,3.6,1.0,0.1,0,0.2,1.5],
  [1.0,1.5,0.2,0,0.1,1.5,3.8,0.3,0.1,0.1, 0.1,0.1,0.2,1.0,3.0,5.0,0.8,0.2,0.1,1.0, 2.0,0.5,0.1,0.3,1.0,0.2,0,0.1,1.0,3.0,
   4.0,1.0,0.1,0,0.1,0.5,0.2,0,0,0.2, 0.5,1.5,2.5,1.5,0.3,0.1,0,0,0.1,0.3, 1.0,0.5,0.1,0,0.1,0.3,0.2,0.1,0,0.1],
  [0.3,0.4,0.1,0,0.5,2.5,3.6,0.4,0.3,0.2, 0.6,0.5,0.3,0.2,0.8,1.5,4.0,5.0,1.5,0.3, 0.1,0.3,3.0,1.5,0.3,0.1,0.2,1.8,0.8,0.1,
   0,0.6,3.0,5.0,6.5,2.5,0.5,0.1,0,0, 0.2,0.5,0.3,0.1,0.3,1.5,2.5,1.0,0.3,0.1, 0,0,0.2,0.8,3.0,3.5,1.5,0.5,0.2,0.1],
  [1.8,0.6,0.1,0,0.3,1.8,3.0,0.2,0.2,0.3, 0.5,0.7,0.4,0.1,1.8,3.8,2.5,1.0,0.5,0.2, 0.1,0,0.3,2.0,4.5,1.5,0.3,0.1,0.3,0.6,
   0.2,0.1,0.3,1.2,2.5,1.0,0.3,0.1,0.8,2.5, 1.2,0.3,0.1,0.2,0.8,2.0,5.2,3.0,0.8,0.2, 0.3,0.8,0.3,0.1,0,0.1,0.8,2.0,3.4,3.5],
  [0.6,0.8,0.1,0,0.8,3.5,4.0,1.0,0.2,0.1, 0.2,0.2,0.1,0.1,1.0,2.5,3.5,2.0,0.8,0.3, 0.2,0.3,1.0,0.5,0.1,0,0.3,0.8,0.2,0.3,
   1.0,0.5,0.2,0.3,0.6,0.2,0.1,1.2,3.0,1.2, 0.2,0,0,0.3,1.2,0.6,0.2,0.3,0.6,2.0, 3.2,1.5,0.3,0.1,0.3,0.6,0.2,0.3,1.5,2.6],
  [0.5,0.8,0.1,0,0.4,2.0,4.1,0.4,0.3,0.5, 0.3,0.2,0.3,0.5,1.5,4.0,4.5,1.5,0.5,0.2, 0.3,1.0,2.5,5.0,2.0,0.5,0.1,0.3,1.5,3.5,
   1.5,0.3,0,0.2,1.0,2.0,4.5,3.0,1.0,0.3, 0.1,0.3,1.0,2.5,1.5,0.5,0.8,2.5,4.0,1.5, 0.5,0.2,0.5,1.5,0.8,0.2,0.1,0.5,1.5,0.8],
  [2.5,1.2,0.1,0,0.2,2.5,3.5,0.3,0.4,0.3, 0.2,0.5,0.3,0.1,1.2,2.5,6.5,3.5,1.5,0.8, 0.2,0.1,0.8,2.0,5.5,3.5,1.0,0.3,0.1,0.5,
   1.5,3.5,2.5,0.8,0.2,0.1,0.3,1.0,3.0,4.5, 2.5,1.0,0.3,0.1,0.3,0.5,1.5,4.0,2.5,0.8, 0.3,0.1,0.3,1.0,2.0,1.0,0.3,0.1,0.3,1.0],
  [0.8,0.3,0,0,0.1,1.5,3.0,0.2,0.1,0.3, 0.5,0.3,0.4,1.0,2.5,4.0,2.0,1.0,2.5,4.0, 1.0,0.3,0.1,0.5,1.5,4.0,2.5,0.8,3.0,5.0,
   2.5,0.8,0.1,0,0.3,1.5,2.5,1.0,0.2,0.1, 1.0,3.0,4.0,1.5,0.3,0.1,0.2,0.5,1.5,2.5, 3.5,2.0,0.5,0.2,0.1,0.3,1.0,2.5,3.0,1.5],
  [0.3,0.2,0.1,0,0.3,2.2,3.2,0.2,0.1,0.1, 0.2,0.3,0.2,0.1,0.5,6.0,7.0,1.0,0.3,0.2, 0.1,0.1,0.3,0.6,0.3,0.1,0,0.1,0.3,0.2,
   0.1,0.2,0.6,1.5,1.0,0.3,0.1,0,0.2,0.5, 0.3,0.1,0,0.2,0.5,0.3,0.1,0,0.2,0.3, 0.2,0.1,0.3,0.6,0.3,0.1,0,0.1,0.3,0.2],
  [1.2,0.6,0.1,0,0.5,3.0,3.8,0.6,0.4,0.3, 0.1,0.1,0.2,0.4,2.0,4.5,6.9,0.8,0.3,0.6, 1.5,2.5,1.2,0.3,0.1,0.3,1.0,2.5,4.0,1.5,
   0.3,0.1,0.3,0.8,0.3,1.0,3.0,4.5,2.0,0.5, 0.2,0.3,1.2,3.0,2.0,1.0,2.0,3.5,2.0,0.5, 0.2,0.3,1.0,2.0,1.0,0.5,0.2,0.8,1.5,1.0]
]
const snowLevels = [5]

const FONT = '"Liberation Sans", Arial, sans-serif'
const dotted = { color: '#000', width: 1, type: [1.5, 2.5] }
const magenta = { color: '#ff55ee', width: 2, type: [6, 3] }
const zeroLine = { color: '#000', width: 3, type: 'solid' }

const panels = [
  { label: 'Neerslag/6 uur', unit: 'mm', min: 0, max: 20, step: 5, mx: hours, members: precipMembers,
    control: precipControl, oper: precipOper, mean: precipMean, marks: [[precipLevels, dotted]] },
  { label: 'Accum Neerslag', unit: 'mm', min: 0, max: 120, step: 20, mx: hours12, members: accumMembers,
    control: accumControl, oper: accumOper, mean: accumMean, marks: [] },
  { label: '10m wind', unit: 'm/s', min: 0, max: 20, step: 5, mx: hours, members: windMembers,
    control: windControl, oper: windOper, mean: windMean, marks: [[windLevels, dotted]] },
  { label: 'Windstoten', unit: 'm/s', min: 0, max: 30, step: 5, mx: hours, members: gustMembers,
    control: gustControl, oper: gustOper, mean: gustMean, marks: [[gustLevels, dotted], [gustRecord, magenta]] },
  { label: 'T2m', unit: 'Celsius', min: -20, max: 20, step: 5, mx: hours, members: tempMembers,
    control: tempControl, oper: tempOper, mean: tempMean, marks: [[tempZero, zeroLine]], gap: 16 },
  { label: 'Sneeuwval/6 uur', unit: 'cm', min: 0, max: 12, step: 2, mx: hours, members: snowMembers,
    control: snowControl, oper: snowOper, mean: snowMean, marks: [[snowLevels, magenta]] }
]

const greens = ['#7aae42', '#8fc05c', '#6c9f34', '#9ccb6c', '#84b84e']
const pairs = (xs, ys) => ys.map((v, i) => [xs[i], v])

const grids = [], xAxes = [], yAxes = [], series = [], elements = []
const rowTop = [0, 184, 369]

panels.forEach((p, k) => {
  const ox = (k % 2) * 388
  const oy = rowTop[Math.floor(k / 2)]
  grids.push({ left: ox + 32, top: oy + 17, width: 326, height: 139 })

  xAxes.push({
    gridIndex: k, type: 'value', min: 0, max: 360, interval: 24, position: 'bottom',
    axisLine: { lineStyle: { color: '#8c8c8c' } },
    axisTick: { length: 3, lineStyle: { color: '#444' } },
    axisLabel: { formatter: () => '00', fontSize: 6, margin: 1, color: '#000', showMinLabel: true, showMaxLabel: true },
    splitLine: { show: false }
  })
  xAxes.push({
    gridIndex: k, type: 'category', data: dayNames, boundaryGap: true, position: 'bottom',
    axisLine: { show: false }, axisTick: { show: false },
    axisLabel: { interval: 0, fontSize: 9, margin: 4, color: '#000' }
  })
  const yBase = {
    gridIndex: k, type: 'value', min: p.min, max: p.max, interval: p.step,
    splitLine: { show: false },
    axisTick: { show: true, length: 4, lineStyle: { color: '#444' } },
    axisLabel: { fontSize: 10, color: '#000', margin: 5 }
  }
  yAxes.push(Object.assign({}, yBase, {
    position: 'left',
    axisLine: { show: true, lineStyle: { color: '#8c8c8c', width: 1 } },
    name: p.unit, nameLocation: 'middle', nameRotate: 90, nameGap: p.gap || 13, nameMoveOverlap: false,
    nameTextStyle: { fontSize: 13, fontWeight: 'bold', color: '#000' }
  }))
  yAxes.push(Object.assign({}, yBase, {
    position: 'right',
    axisLine: { show: true, lineStyle: { color: '#555', width: 2.5 } }
  }))

  const xi = 2 * k, yi = 2 * k
  p.members.forEach((m, j) => {
    const s = {
      type: 'line', xAxisIndex: xi, yAxisIndex: yi, data: pairs(p.mx, m),
      showSymbol: false, silent: true, z: 2,
      lineStyle: { color: greens[j % greens.length], width: 1.1, opacity: 0.85 }
    }
    if (j === 0 && p.marks.length) {
      s.markLine = {
        silent: true, symbol: 'none', label: { show: false }, animation: false,
        data: [].concat(...p.marks.map(([lv, st]) => lv.map(v => ({ yAxis: v, lineStyle: st }))))
      }
    }
    series.push(s)
  })
  series.push({ type: 'line', xAxisIndex: xi, yAxisIndex: yi, data: pairs(hours, p.control), showSymbol: false, silent: true, z: 3,
    lineStyle: { color: '#2b2bff', width: 1.6, type: [5, 3] } })
  series.push({ type: 'line', xAxisIndex: xi, yAxisIndex: yi, data: pairs(hours, p.oper), showSymbol: false, silent: true, z: 4,
    lineStyle: { color: '#ff1e1e', width: 1.6 } })
  series.push({ type: 'line', xAxisIndex: xi, yAxisIndex: yi, data: pairs(hours, p.mean), showSymbol: false, silent: true, z: 5,
    lineStyle: { color: '#7a1c10', width: 3, type: [2, 2] } })

  // panel frame
  elements.push({ type: 'rect', silent: true, z: -10,
    shape: { x: ox + 1.5, y: oy + 0.5, width: 386, height: 182 },
    style: { fill: '#fff', stroke: '#4a4ae6', lineWidth: 1 } })
  // title
  elements.push({ type: 'text', x: ox + 195, y: oy + 8, z: 10,
    style: { text: '{a|Woensdag  15  December}{c|  2010  (starttijd  Wo 00 }{b|UTC)}', align: 'center', verticalAlign: 'middle',
      rich: { a: { font: '11px ' + FONT, fill: '#000', stroke: '#000', lineWidth: 0.35 },
        c: { font: '11px ' + FONT, fill: '#000' }, b: { font: 'bold 11px ' + FONT, fill: '#000' } } } })
  // station / variable
  elements.push({ type: 'text', x: ox + 321, y: oy + 24, z: 10,
    style: { text: 'De Bilt', font: '10px ' + FONT, fill: '#000', align: 'center', verticalAlign: 'middle' } })
  elements.push({ type: 'text', x: ox + 321, y: oy + 35, z: 10,
    style: { text: p.label, font: '10px ' + FONT, fill: '#000', align: 'center', verticalAlign: 'middle' } })
  // legend
  elements.push({ type: 'line', z: 10, shape: { x1: ox + 35, y1: oy + 25, x2: ox + 57, y2: oy + 25 },
    style: { stroke: '#3b3bff', lineWidth: 1.6, lineDash: [5, 3] } })
  elements.push({ type: 'line', z: 10, shape: { x1: ox + 35, y1: oy + 31, x2: ox + 57, y2: oy + 31 },
    style: { stroke: '#ff1e1e', lineWidth: 1.4 } })
  elements.push({ type: 'line', z: 10, shape: { x1: ox + 35, y1: oy + 37.5, x2: ox + 57, y2: oy + 37.5 },
    style: { stroke: '#7a1c10', lineWidth: 2.5, lineDash: [2, 2] } })
  elements.push({ type: 'text', x: ox + 67, y: oy + 25, z: 10,
    style: { text: 'Control', font: '8px ' + FONT, fill: '#000', verticalAlign: 'middle' } })
  elements.push({ type: 'text', x: ox + 73, y: oy + 31.5, z: 10,
    style: { text: 'Oper', font: '8px ' + FONT, fill: '#000', verticalAlign: 'middle' } })
  elements.push({ type: 'text', x: ox + 67, y: oy + 38, z: 10,
    style: { text: 'Ens mn', font: '8px ' + FONT, fill: '#000', verticalAlign: 'middle' } })
  // x axis title
  elements.push({ type: 'text', x: ox + 190, y: oy + 174, z: 10,
    style: { text: 'Dag', font: 'bold 14px ' + FONT, fill: '#000', align: 'center', verticalAlign: 'middle' } })
  // source
  elements.push({ type: 'text', x: ox + 372, y: oy + 174, z: 10,
    style: { text: 'Bron:  ECMWF/KNMI', font: 'bold 6.5px ' + FONT, fill: '#1010ff', align: 'right', verticalAlign: 'middle' } })
})

const chart = echarts.init(document.getElementById('chart'))
chart.setOption({
  animation: false,
  backgroundColor: '#cfcff4',
  textStyle: { fontFamily: FONT },
  grid: grids,
  xAxis: xAxes,
  yAxis: yAxes,
  series: series,
  graphic: { elements: elements }
})
</script>
</body>
</html>
